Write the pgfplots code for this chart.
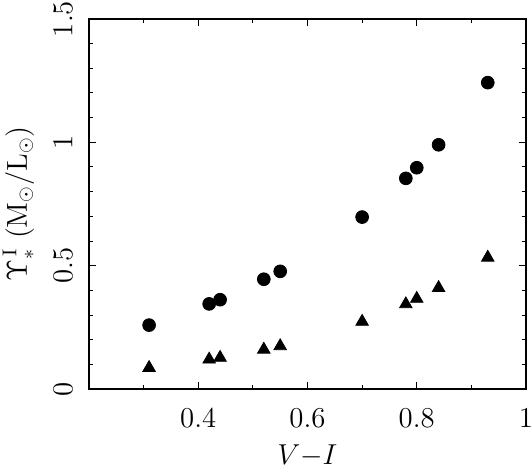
\documentclass[border=0pt]{standalone}
\usepackage{pgfplots}
\pgfplotsset{compat=1.18}

\begin{document}
\begin{tikzpicture}
\begin{axis}[
    scale only axis,
    width=218.5pt,
    height=185pt,
    xmin=0.2, xmax=1,
    ymin=0, ymax=1.5,
    xtick={0.4,0.6,0.8,1},
    minor xtick={0.3,0.5,0.7,0.9},
    ytick={0,0.5,1,1.5},
    minor y tick num=4,
    tick align=inside,
    major tick length=3.4pt,
    minor tick length=2pt,
    tick style={black, line width=0.5pt},
    axis line style={line width=0.9pt},
    font=\fontsize{14}{16}\selectfont,
    xticklabel shift=6.6pt,
    yticklabel shift=4.8pt,
    yticklabel style={rotate=90, anchor=south},
    xlabel={$V{-}I$},
    ylabel={$\Upsilon_*^{\,\mathrm{I}}\ (\mathrm{M}_\odot/\mathrm{L}_\odot)$},
    xlabel style={at={(axis description cs:0.5,-0.203)}, anchor=base},
    ylabel style={at={(axis description cs:-0.142,0.5)}, anchor=base},
]
\addplot[only marks, mark=*, mark size=3.2pt, black] coordinates {
    (0.31,0.259) (0.42,0.345) (0.44,0.362) (0.52,0.445) (0.55,0.477)
    (0.70,0.697) (0.78,0.854) (0.80,0.897) (0.84,0.990) (0.93,1.242)
};
\addplot[only marks, mark=triangle*, mark size=3.6pt, black] coordinates {
    (0.31,0.086) (0.42,0.120) (0.44,0.127) (0.52,0.160) (0.55,0.174)
    (0.70,0.273) (0.78,0.344) (0.80,0.366) (0.84,0.410) (0.93,0.533)
};
\end{axis}
\pgfresetboundingbox
\path[use as bounding box] ([shift={(-44.5pt,-40pt)}]current axis.south west) rectangle ([shift={(2.5pt,9.5pt)}]current axis.north east);
\end{tikzpicture}
\end{document}
